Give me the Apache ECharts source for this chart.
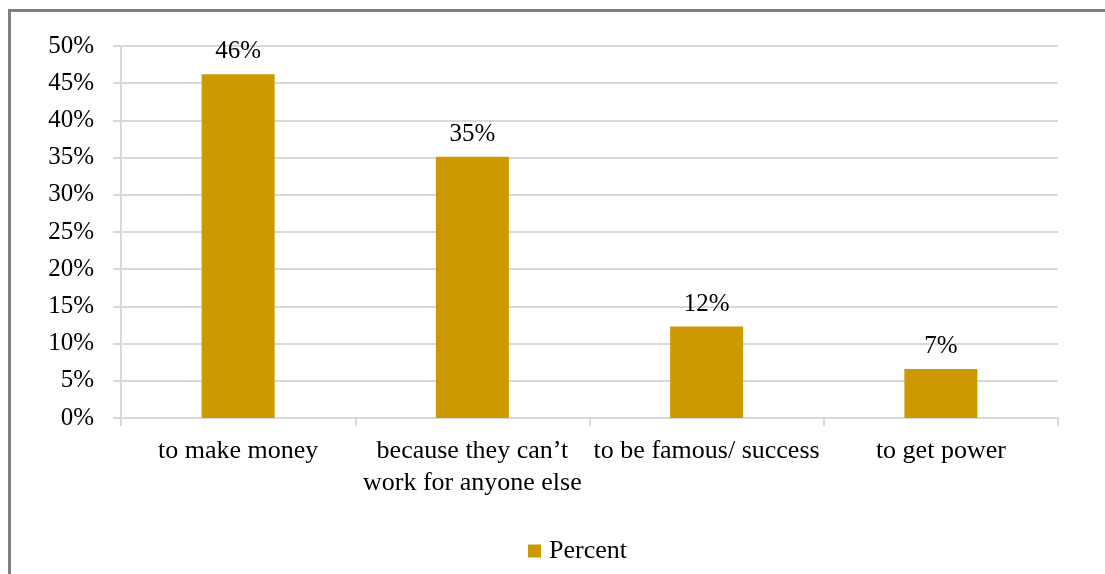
<!DOCTYPE html>
<html><head><meta charset="utf-8">
<script src="https://cdn.jsdelivr.net/npm/echarts@6/dist/echarts.min.js"></script>
<style>html,body{margin:0;padding:0;background:#fff}#c{width:1105px;height:574px}</style>
</head><body><div id="c"></div>
<script>
const categories = ['to make money', 'because they can\u2019t\nwork for anyone else', 'to be famous/ success', 'to get power'];
const percentValues = [46.2, 35.1, 12.3, 6.6];
const seriesName = 'Percent';
const yTicks = { min: 0, max: 50, interval: 5 };

const font = '"Liberation Serif", "Times New Roman", serif';
const chart = echarts.init(document.getElementById('c'), null, { renderer: 'canvas' });
chart.setOption({
  animation: false,
  textStyle: { fontFamily: font },
  graphic: [{
    type: 'rect', silent: true,
    shape: { x: 9.5, y: 10.5, width: 1200, height: 700 },
    style: { fill: 'none', stroke: '#808080', lineWidth: 3 }
  }],
  grid: { left: 121, right: 47, top: 46, bottom: 156, containLabel: false },
  legend: {
    data: [seriesName], top: 533, left: 523,
    itemWidth: 13, itemHeight: 13, itemGap: 6, icon: 'rect',
    textStyle: { fontFamily: font, fontSize: 26, color: '#000', padding: [0, 0, 0, 3] }
  },
  xAxis: {
    type: 'category', data: categories,
    axisLine: { lineStyle: { color: '#d9d9d9', width: 2 } },
    axisTick: { show: true, length: 8, lineStyle: { color: '#d9d9d9', width: 2 }, alignWithLabel: false },
    axisLabel: { fontFamily: font, fontSize: 26, color: '#000', margin: 17, lineHeight: 32, interval: 0 }
  },
  yAxis: {
    type: 'value', min: yTicks.min, max: yTicks.max, interval: yTicks.interval,
    axisLine: { show: true, lineStyle: { color: '#d9d9d9', width: 2 } },
    axisTick: { show: true, length: 8, lineStyle: { color: '#d9d9d9', width: 2 } },
    splitLine: { lineStyle: { color: '#d9d9d9', width: 2 } },
    axisLabel: { fontFamily: font, fontSize: 25, color: '#000', margin: 27, formatter: v => v + '%' }
  },
  series: [{
    name: seriesName, type: 'bar', data: percentValues, barWidth: 73,
    itemStyle: { color: '#CC9900' },
    label: {
      show: true, position: 'top', distance: 10,
      fontFamily: font, fontSize: 25, color: '#000',
      formatter: p => Math.round(p.value) + '%'
    }
  }]
});
</script></body></html>
